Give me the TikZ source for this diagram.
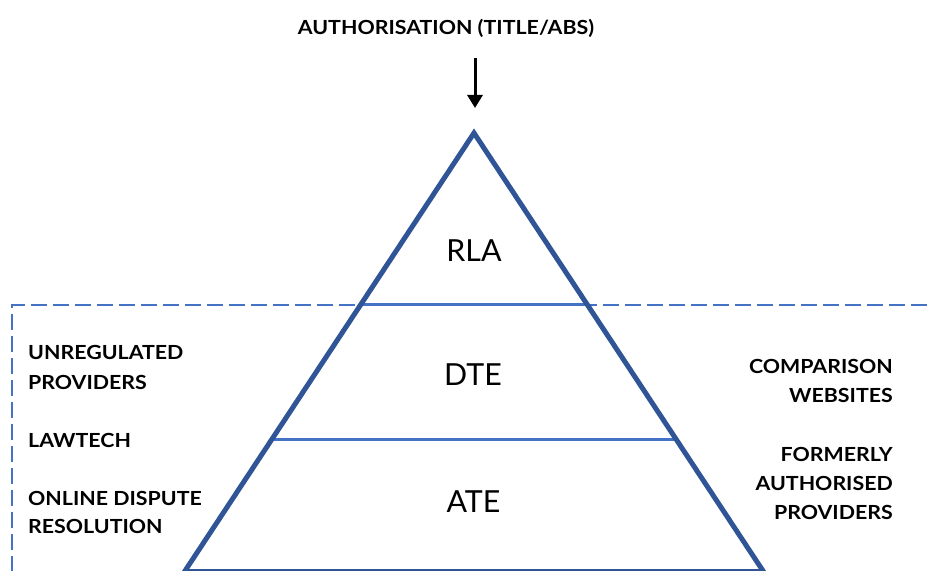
\documentclass[tikz,border=0pt]{standalone}
\usepackage{fontspec}
\setmainfont{Lato}
\newfontfamily\capfont[FakeStretch=1.1]{Lato}
\usetikzlibrary{arrows.meta,calc}
\definecolor{pyrblue}{HTML}{2F5597}
\definecolor{lineblue}{HTML}{4472C4}
\begin{document}
\begin{tikzpicture}[x=1bp,y=-1bp,
  caption/.style={font=\capfont\fontsize{19.5}{29}\selectfont\bfseries, inner sep=0pt, text=black},
  tier/.style={font=\fontsize{30.5}{36}\selectfont, inner sep=0pt, anchor=base, text=black},
  edge/.style={pyrblue, line width=5bp, line join=miter},
  divider/.style={lineblue, line width=3bp},
  boundary/.style={lineblue, line width=2bp, dash pattern=on 16bp off 6bp}]
\useasboundingbox (0,0) rectangle (928,571);

% title and arrow
\node[caption, anchor=base] (title) at (446,35) {AUTHORISATION (TITLE/ABS)};
\coordinate (arrowtail) at (475,58);
\coordinate (arrowtip) at (475,108);
\draw[line width=3bp, -{Triangle[width=15bp,length=13bp]}] (arrowtail) -- (arrowtip);

% pyramid corners
\coordinate (apex) at (474,133);
\coordinate (bl) at (184.6,571.5);
\coordinate (br) at (763.4,571.5);

% regulated boundary
\coordinate (dashbottom) at (12,572);
\coordinate (dashcorner) at (12,305);
\coordinate (dashend) at (929,305);
\draw[boundary] (dashbottom) -- (dashcorner) -- (dashend);

% tier dividers
\coordinate (d1l) at ($(apex)!0.3922!(bl)$);
\coordinate (d1r) at ($(apex)!0.3922!(br)$);
\coordinate (d2l) at ($(apex)!0.7001!(bl)$);
\coordinate (d2r) at ($(apex)!0.7001!(br)$);
\draw[divider] (d1l) -- (d1r);
\draw[divider] (d2l) -- (d2r);

% pyramid outline
\draw[edge] (apex) -- (bl) -- (br) -- cycle;

% tier names
\node[tier] (rla) at (474,262) {RLA};
\node[tier] (dte) at (473,385) {DTE};
\node[tier] (ate) at (473.5,512) {ATE};

% left-hand groups
\node[caption, anchor=base west] (unreg1) at (28,359) {UNREGULATED};
\node[caption, anchor=base west] (unreg2) at (28,389) {PROVIDERS};
\node[caption, anchor=base west] (lawtech) at (28,447) {LAWTECH};
\node[caption, anchor=base west] (odr1) at (28,505) {ONLINE DISPUTE};
\node[caption, anchor=base west] (odr2) at (28,533) {RESOLUTION};

% right-hand groups
\node[caption, anchor=base east] (comp1) at (893,373) {COMPARISON};
\node[caption, anchor=base east] (comp2) at (893,402) {WEBSITES};
\node[caption, anchor=base east] (former1) at (893,461) {FORMERLY};
\node[caption, anchor=base east] (former2) at (893,490) {AUTHORISED};
\node[caption, anchor=base east] (former3) at (893,519) {PROVIDERS};
\end{tikzpicture}
\end{document}
